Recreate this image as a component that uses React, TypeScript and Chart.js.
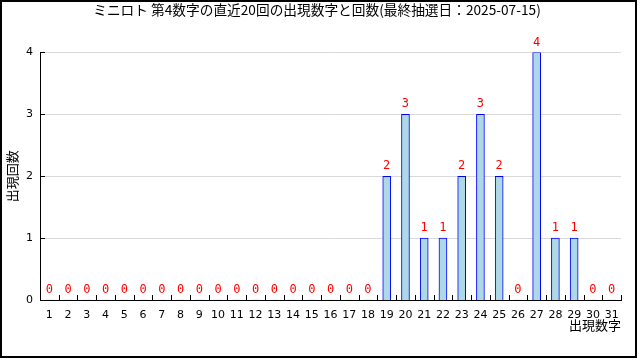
import React, { useEffect, useRef } from "react";
import { Chart, registerables } from "chart.js";

Chart.register(...registerables);

const TITLE = "ミニロト 第4数字の直近20回の出現数字と回数(最終抽選日：2025-07-15)";
const X_TITLE = "出現数字";
const Y_TITLE = "出現回数";
const NUMBERS: string[] = [
  "1", "2", "3", "4", "5", "6", "7", "8", "9", "10",
  "11", "12", "13", "14", "15", "16", "17", "18", "19", "20",
  "21", "22", "23", "24", "25", "26", "27", "28", "29", "30", "31",
];
const COUNTS: number[] = [
  0, 0, 0, 0, 0, 0, 0, 0, 0, 0,
  0, 0, 0, 0, 0, 0, 0, 0, 2, 3,
  1, 1, 2, 3, 2, 0, 4, 1, 1, 0, 0,
];
const Y_TICKS: number[] = [0, 1, 2, 3, 4];

const JP = "'Noto Sans CJK JP', 'DejaVu Sans', sans-serif";

const gridLines = {
  id: "gridLines",
  beforeDatasetsDraw(chart: any) {
    const { ctx } = chart;
    const xs = chart.scales.x;
    const ys = chart.scales.y;
    ctx.save();
    ctx.strokeStyle = "#d9d9d9";
    ctx.lineWidth = 1;
    ctx.beginPath();
    for (const v of Y_TICKS) {
      if (v === 0) continue;
      const y = Math.round(ys.getPixelForValue(v)) + 0.5;
      ctx.moveTo(xs.left, y);
      ctx.lineTo(xs.right, y);
    }
    ctx.stroke();
    ctx.restore();
  },
};

const innerTicks = {
  id: "innerTicks",
  afterDraw(chart: any) {
    const { ctx } = chart;
    const xs = chart.scales.x;
    const ys = chart.scales.y;
    ctx.save();
    ctx.strokeStyle = "#000";
    ctx.lineWidth = 1;
    ctx.beginPath();
    for (const v of Y_TICKS) {
      const y = Math.round(ys.getPixelForValue(v)) + 0.5;
      ctx.moveTo(xs.left, y);
      ctx.lineTo(xs.left + 5, y);
    }
    const yb = Math.round(ys.getPixelForValue(0));
    for (let i = 0; i < NUMBERS.length; i++) {
      const x = Math.round(xs.getPixelForValue(i + 0.5)) + 0.5;
      ctx.moveTo(x, yb);
      ctx.lineTo(x, yb - 5);
    }
    ctx.stroke();
    // outer frame
    ctx.lineWidth = 2;
    ctx.strokeRect(1, 1, 635, 356);
    ctx.restore();
  },
};

const valueLabels = {
  id: "valueLabels",
  afterDatasetsDraw(chart: any) {
    const { ctx } = chart;
    const meta = chart.getDatasetMeta(0);
    ctx.save();
    ctx.fillStyle = "#ff0000";
    ctx.font = "12px 'DejaVu Sans Mono', monospace";
    ctx.textAlign = "center";
    ctx.textBaseline = "middle";
    meta.data.forEach((bar: any, i: number) => {
      ctx.fillText(String(COUNTS[i]), bar.x, bar.y - 10);
    });
    ctx.restore();
  },
};

export default function App() {
  const ref = useRef<HTMLCanvasElement | null>(null);
  useEffect(() => {
    document.body.style.margin = "0";
    const canvas = ref.current!;
    const chart = new Chart(canvas, {
      type: "bar",
      data: {
        labels: NUMBERS,
        datasets: [
          {
            data: COUNTS,
            backgroundColor: "#add8e6",
            borderColor: "#0000ff",
            borderWidth: (c: any) => (COUNTS[c.dataIndex] === 0 ? 0 : 1),
            barThickness: 8,
          },
        ],
      },
      options: {
        responsive: false,
        animation: false,
        devicePixelRatio: 1,
        layout: { padding: { top: 0, left: 0, right: 6, bottom: 0 } },
        plugins: {
          legend: { display: false },
          tooltip: { enabled: false },
          title: {
            display: true,
            text: TITLE,
            color: "#000",
            font: { family: JP, size: 13.7, weight: "normal", lineHeight: 1.2 },
            padding: { top: 2, bottom: 34 },
          },
        },
        scales: {
          x: {
            type: "category",
            offset: true,
            grid: { display: false, drawTicks: false },
            border: { display: true, color: "#000", width: 1 },
            ticks: {
              color: "#000",
              font: { family: "'DejaVu Sans', sans-serif", size: 11 },
              padding: 9,
              maxRotation: 0,
              autoSkip: false,
            },
            title: {
              display: true,
              text: X_TITLE,
              align: "end",
              color: "#000",
              font: { family: JP, size: 13, lineHeight: 1.2 },
              padding: { top: 0, bottom: 27 },
            },
            afterFit(scale: any) {
              scale.height = 60;
            },
          },
          y: {
            min: 0,
            max: 4,
            grid: { display: false, drawTicks: false },
            border: { display: true, color: "#000", width: 1 },
            ticks: {
              stepSize: 1,
              color: "#000",
              font: { family: "'DejaVu Sans', sans-serif", size: 11 },
              padding: 7,
            },
            title: {
              display: true,
              text: Y_TITLE,
              color: "#000",
              font: { family: JP, size: 13, lineHeight: 1.2 },
              padding: { top: 4, bottom: 0 },
            },
            afterFit(scale: any) {
              scale.width = 40;
            },
          },
          yRight: {
            position: "right",
            display: true,
            min: 0,
            max: 4,
            grid: { display: false, drawTicks: false },
            border: { display: false },
            ticks: { display: false },
            afterFit(scale: any) {
              scale.width = 13;
            },
          },
        },
      },
      plugins: [gridLines, innerTicks, valueLabels],
    } as any);
    return () => chart.destroy();
  }, []);
  return (
    <div style={{ position: "absolute", left: 0, top: 0, width: 640, height: 360, background: "#fff" }}>
      <canvas ref={ref} width={640} height={360} />
    </div>
  );
}
